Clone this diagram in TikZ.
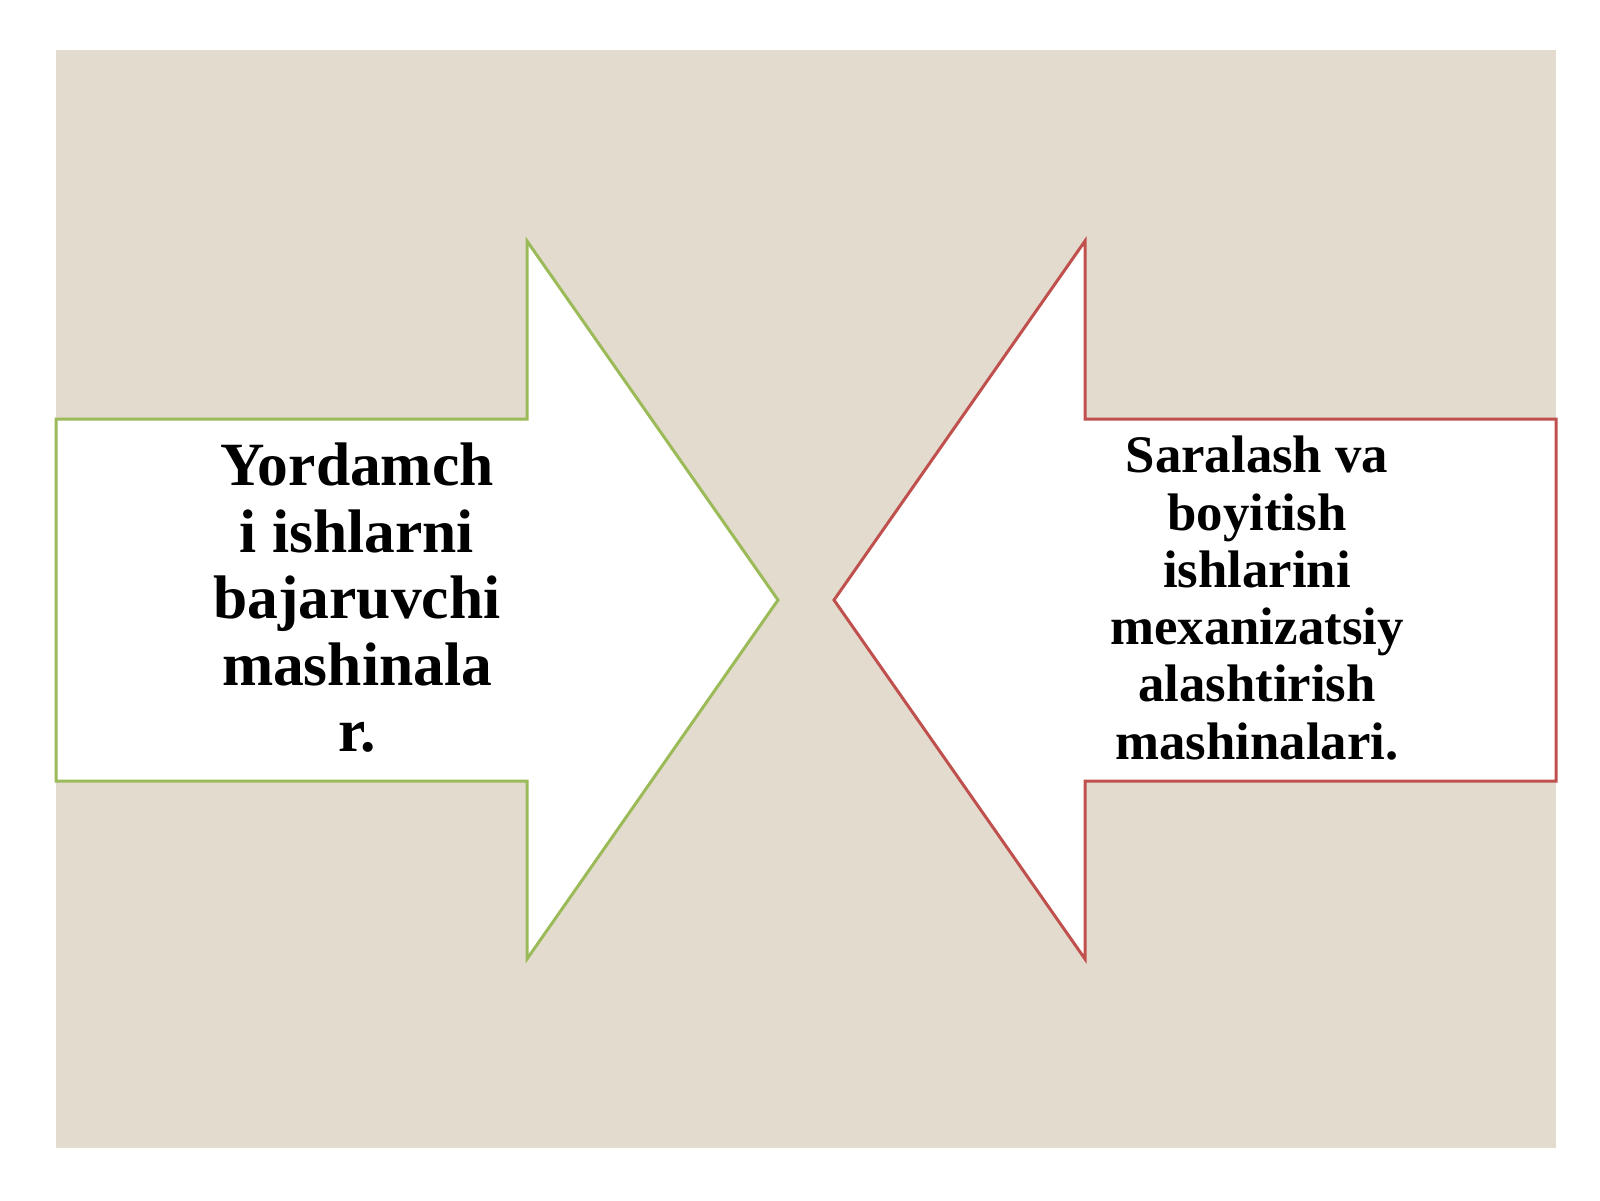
\documentclass[tikz,border=0pt]{standalone}
\usepackage{fontspec}
\setmainfont{Liberation Serif}
\definecolor{paper}{RGB}{227,219,206}
\definecolor{arrgreen}{RGB}{155,187,89}
\definecolor{arrred}{RGB}{192,80,77}
\tikzset{
  arrowshape/.style={fill=white, line width=1.5pt, line join=miter},
  bigtext/.style={align=center, font=\bfseries\fontsize{30.75pt}{33.25pt}\selectfont, inner sep=0pt},
  midtext/.style={align=center, font=\bfseries\fontsize{26.4pt}{28.65pt}\selectfont, inner sep=0pt}
}
\begin{document}
\begin{tikzpicture}[x=0.5pt,y=-0.5pt]
\useasboundingbox (0,0) rectangle (1600,1200);
\fill[white] (0,0) rectangle (1600,1200);
\fill[paper] (56,50) rectangle (1556,1148);
% left arrow (green, pointing right)
\draw[arrowshape, draw=arrgreen] (56,419) -- (527,419) -- (527,241) -- (778,600) -- (527,959) -- (527,781) -- (56,781) -- cycle;
% right arrow (red, pointing left)
\draw[arrowshape, draw=arrred] (1556,419) -- (1085,419) -- (1085,241) -- (834,600) -- (1085,959) -- (1085,781) -- (1556,781) -- cycle;
\node[bigtext] (lefttext) at (357,598) {Yordamch\\i ishlarni\\bajaruvchi\\mashinala\\r.};
\node[midtext] (righttext) at (1257,598) {Saralash va\\boyitish\\ishlarini\\mexanizatsiy\\alashtirish\\mashinalari.};
\end{tikzpicture}
\end{document}
